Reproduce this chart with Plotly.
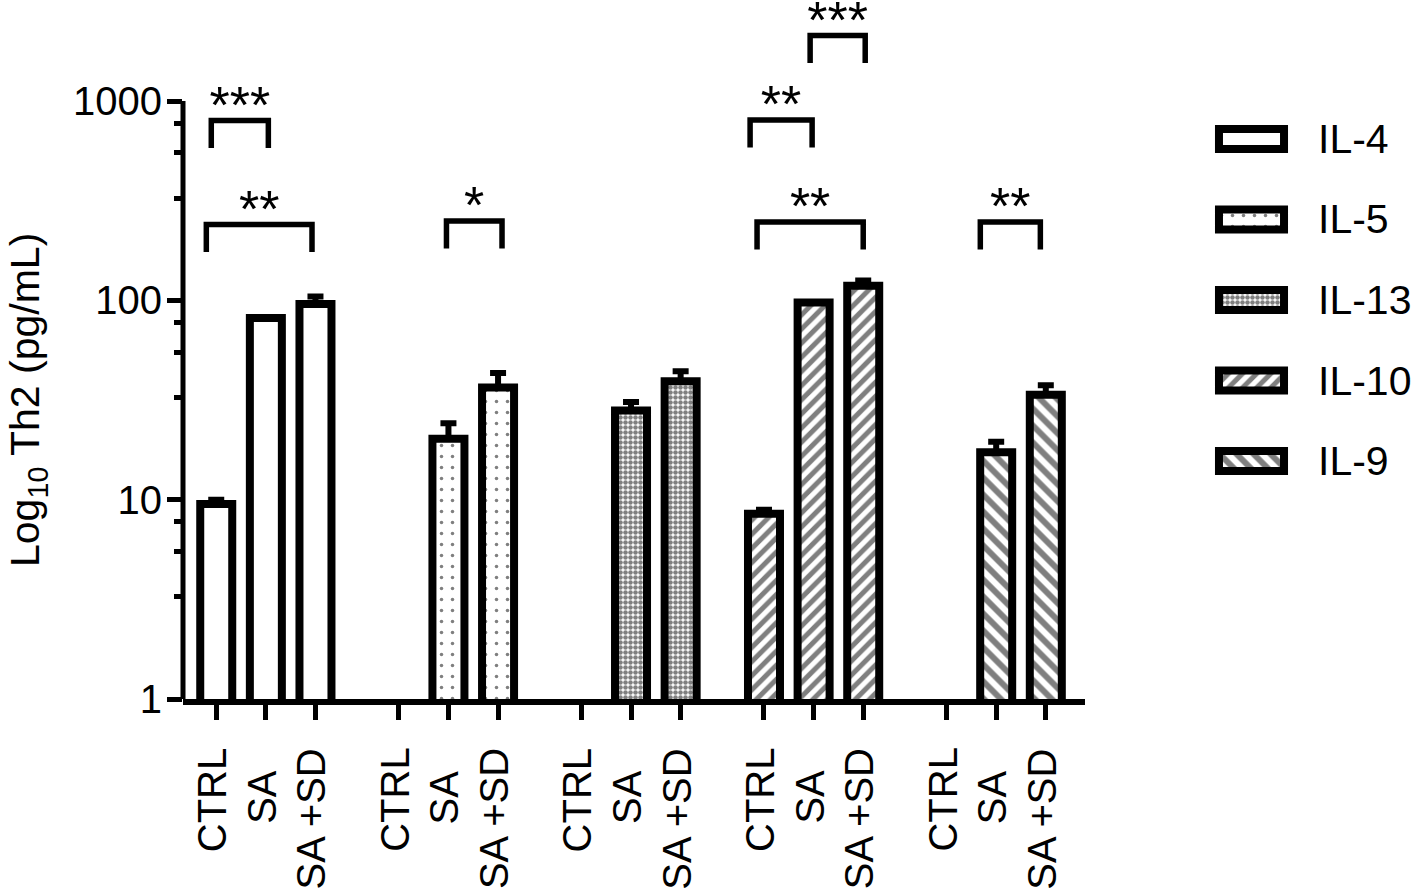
import plotly.graph_objects as go

# ---------------- data ----------------
categories = ["CTRL", "SA", "SA +SD"]
cytokines = ["IL-4", "IL-5", "IL-13", "IL-10", "IL-9"]

il4_mean = [9.5, 81.6, 95.9]
il4_sd = [0.5, 0.5, 8.5]
il5_mean = [None, 20.2, 36.5]
il5_sd = [None, 4.0, 6.7]
il13_mean = [None, 28.0, 39.3]
il13_sd = [None, 2.9, 4.8]
il10_mean = [8.5, 97.6, 118.4]
il10_sd = [0.4, 0.5, 7.5]
il9_mean = [None, 17.3, 33.6]
il9_sd = [None, 2.2, 3.9]

y_tick_vals = [1, 10, 100, 1000]
y_tick_text = ["1", "10", "100", "1000"]
y_minor_vals = [3.25, 5.5, 7.75, 32.5, 55, 77.5, 325, 550, 775]

y_title = "Log<sub>10</sub> Th2 (pg/mL)"

# significance brackets
sig_cytokine = ["IL-4", "IL-4", "IL-5", "IL-10", "IL-10", "IL-10", "IL-9"]
sig_left = [-0.10, -0.20, 0.96, -0.28, 0.93, -0.14, 0.68]
sig_right = [1.05, 1.93, 2.08, 0.97, 2.04, 2.00, 1.89]
sig_level = [798, 240, 250, 803, 2133, 247, 247]
sig_label = ["***", "**", "*", "**", "***", "**", "**"]

means = [il4_mean, il5_mean, il13_mean, il10_mean, il9_mean]
sds = [il4_sd, il5_sd, il13_sd, il10_sd, il9_sd]

# ---------------- styles / layout ----------------
W = 1418
H = 915                 # page height used for drawing
VS = H / 893.0          # vertical design scale
FONT = "Liberation Sans, Arial, sans-serif"
PLOT_L, PLOT_R = 183, 1085
PLOT_BOTTOM = 699 * VS
PX_PER_DECADE = 199.33 * VS
GROUP_GAP = 3.68
BAR_W = 0.645
X_PAD_L, X_PAD_R = 0.67, 0.79

patterns = [
    dict(shape=""),
    dict(shape=".", size=11, solidity=0.08, fgcolor="black", bgcolor="white"),
    dict(shape=".", size=5, solidity=0.65, fgcolor="black", bgcolor="white"),
    dict(shape="/", size=10, solidity=0.5, fgcolor="black", bgcolor="white"),
    dict(shape="\\", size=12, solidity=0.5, fgcolor="black", bgcolor="white"),
]
label_center_px = {"CTRL": 800, "SA": 797, "SA +SD": 819}
LEG_RATIO = 1.374
STAR_LIFT = 1.13


def xpos(g, c):
    return g * GROUP_GAP + c


def py(px):
    """reference pixel row -> paper fraction"""
    return 1 - px * VS / H


fig = go.Figure()

for g, name in enumerate(cytokines):
    fig.add_trace(go.Bar(
        x=[xpos(g, c) for c in range(len(categories))],
        y=means[g],
        width=BAR_W,
        name=name,
        showlegend=False,
        marker=dict(color="white", line=dict(color="black", width=8), pattern=patterns[g]),
        error_y=dict(type="data", array=sds[g], arrayminus=[0] * len(categories),
                     symmetric=False, thickness=6, width=8, color="black"),
    ))

# legend as a tiny subplot of horizontal bars
for i, name in enumerate(cytokines):
    fig.add_trace(go.Bar(
        x=[1], y=[i], base=0, orientation="h", width=0.248,
        xaxis="x2", yaxis="y2", showlegend=False,
        marker=dict(color="white", line=dict(color="black", width=8), pattern=patterns[i]),
    ))
    fig.add_annotation(x=1316 / W, xref="paper", xanchor="left", y=i, yref="y2",
                       yanchor="middle", text=name, showarrow=False,
                       font=dict(family=FONT, size=41, color="black"))

# significance brackets
shapes = []
star_x, star_y = [], []
for k in range(len(sig_label)):
    g = cytokines.index(sig_cytokine[k])
    xl, xr = xpos(g, sig_left[k]), xpos(g, sig_right[k])
    yt = sig_level[k]
    yb = yt / LEG_RATIO
    shapes.append(dict(type="path", xref="x", yref="y",
                       path=f"M {xl},{yb} L {xl},{yt} L {xr},{yt} L {xr},{yb}",
                       line=dict(color="black", width=5.5)))
    star_x.append((xl + xr) / 2)
    star_y.append(yt * STAR_LIFT)

fig.add_trace(go.Scatter(x=star_x, y=star_y, mode="text", text=sig_label,
                         textposition="middle center", cliponaxis=False, showlegend=False,
                         textfont=dict(family=FONT, size=52, color="black")))

# y axis line (only from 1 to 1000)
shapes.append(dict(type="line", xref="x domain", x0=0, x1=0, yref="y", y0=1, y1=1000,
                   line=dict(color="black", width=5)))

# x category labels
for g in range(len(cytokines)):
    for c, cat in enumerate(categories):
        fig.add_annotation(x=xpos(g, c), xref="x", y=py(label_center_px[cat]), yref="paper",
                           text=cat, textangle=-90, showarrow=False, xshift=-4,
                           xanchor="center", yanchor="middle",
                           font=dict(family=FONT, size=40, color="black"))

# y title
fig.add_annotation(x=28 / W, xref="paper", y=py(400), yref="paper", text=y_title,
                   textangle=-90, showarrow=False, xanchor="center", yanchor="middle",
                   font=dict(family=FONT, size=41, color="black"))

x_max = xpos(len(cytokines) - 1, len(categories) - 1)
all_ticks = [xpos(g, c) for g in range(len(cytokines)) for c in range(len(categories))]

fig.update_layout(
    width=W, height=H,
    margin=dict(l=0, r=0, t=0, b=0),
    paper_bgcolor="white", plot_bgcolor="white",
    barmode="overlay",
    shapes=shapes,
    font=dict(family=FONT, color="black"),
    xaxis=dict(domain=[PLOT_L / W, PLOT_R / W], range=[-X_PAD_L, x_max + X_PAD_R],
               tickvals=all_ticks, showticklabels=False, ticks="outside", ticklen=15,
               tickwidth=5, tickcolor="black", showline=True, linewidth=6, linecolor="black",
               showgrid=False, zeroline=False, anchor="y"),
    yaxis=dict(type="log", domain=[1 - PLOT_BOTTOM / H, 1],
               range=[0, PLOT_BOTTOM / PX_PER_DECADE],
               tickvals=y_tick_vals, ticktext=y_tick_text, ticks="outside", ticklen=15,
               tickwidth=5, tickcolor="black", showline=False, showgrid=False, zeroline=False,
               tickfont=dict(family=FONT, size=40, color="black"), ticklabelstandoff=-3,
               minor=dict(tickvals=y_minor_vals, ticks="outside", ticklen=8, tickwidth=5,
                          tickcolor="black", showgrid=False),
               anchor="x"),
    xaxis2=dict(domain=[1205 / W, 1298 / W], range=[-0.215, 1.215], visible=False, anchor="y2"),
    yaxis2=dict(domain=[py(500), py(100)], range=[4.484, -0.484], visible=False,
                anchor="x2"),
)

fig.write_html("out.html", config={"displayModeBar": False},
               post_script="document.body.style.margin='0';document.body.style.overflow='hidden';")
